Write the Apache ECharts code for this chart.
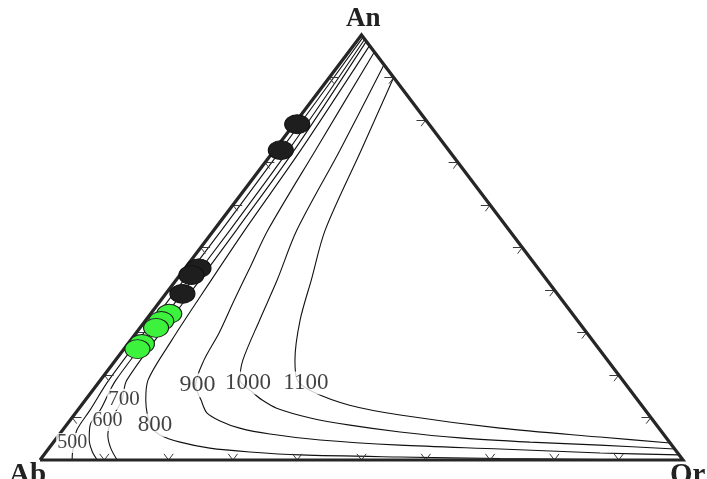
<!DOCTYPE html>
<html>
<head>
<meta charset="utf-8">
<script src="https://cdn.jsdelivr.net/npm/echarts@6/dist/echarts.min.js"></script>
<style>html,body{margin:0;padding:0;background:#fff}#c{width:707px;height:479px}</style>
</head>
<body>
<div id="c"></div>
<script>
// Ternary compositions given as [An %, Or %]  (Ab = 100 - An - Or)
const vertexNames = ['An', 'Ab', 'Or'];
const isothermNames = ['500', '600', '700', '800', '900', '1000', '1100'];
const iso500 = [[99.5,0.5],[72.9,1.0],[54.1,1.2],[37.6,1.2],[18.8,1.3],[11.8,1.9],[7.1,2.2],[3.5,3.5],[1.7,4.2],[0,5.0]];
const iso600 = [[99,1],[72.9,2.2],[54.1,2.5],[37.6,2.5],[18.8,2.4],[11.8,3.5],[8.2,3.7],[4.7,5.3],[1.9,7.2],[0,8.9]];
const iso700 = [[98.5,1.5],[72.9,3.1],[54.1,3.5],[37.6,3.75],[18.8,4.1],[14.1,5.7],[9.9,6.3],[5.9,7.6],[2.8,9.6],[0,12.0]];
const iso800 = [[97.5,2.5],[72.9,4.1],[54.1,4.8],[37.6,5.75],[28.2,6.4],[18.8,7.4],[14.1,9.4],[10.6,11.4],[7.8,13.4],[5.9,15.7],[4.2,19.7],[2.8,25.0],[1.9,31.7],[1.2,39.9],[0.7,55.6],[0.35,71.4],[0.12,87.0],[0,100]];
const iso900 = [[96,4],[72.9,6.4],[54.1,8.4],[45.4,10.0],[37.6,11.4],[29.9,12.9],[23.5,13.75],[17.6,15.4],[14.1,18.0],[11.1,20.4],[9.2,23.4],[7.5,27.3],[6.1,32.7],[4.7,41.2],[3.5,54.2],[2.6,70.3],[1.65,86.3],[1.2,98.8]];
const iso1000 = [[93,7],[72.9,10.2],[54.1,12.9],[42.4,15.7],[32.9,17.7],[23.5,19.8],[18.8,21.7],[16,25.0],[14.1,27.5],[12.2,30.7],[9.9,37.1],[8.2,44.1],[6.6,52.7],[5.2,62.7],[4.2,74.1],[3.5,85.3],[2.6,97.4]];
const iso1100 = [[90,10],[72.9,13.5],[54.1,17.3],[42.4,21.0],[32.9,24.0],[23.5,27.9],[18.8,30.6],[16,34.5],[12.9,41.7],[10.6,50.7],[7.5,67.8],[5.4,84.4],[4,96]];
const isotherms = [iso500, iso600, iso700, iso800, iso900, iso1000, iso1100];
const blackSamples = [[79.0,0.5],[72.9,1.0],[45.1,2.1],[43.5,1.8],[39.1,2.6]];
const greenSamples = [[34.4,2.9],[32.7,2.5],[31.1,2.5],[27.3,2.2],[26.1,2.1]];
const tickValues = [10,20,30,40,50,60,70,80,90];

// label anchor compositions (annotation placement) and their font sizes
const labelAnchors = [[4.0,3.0],[9.2,5.9],[14.3,5.9],[8.2,13.8],[17.6,15.7],[18.1,23.3],[18.1,32.3]];
const labelFont = [20, 20, 21, 23, 24, 23, 23];

function tern(an, or) { return [or / 100 + an / 200, an / 100]; }

const tickLen = 1.45; // percent
const tickData = [];
tickValues.forEach(function (f) {
  let p = tern(0, f);
  tickData.push({coords: [p, tern(tickLen, f - tickLen)]});
  tickData.push({coords: [p, tern(tickLen, f)]});
  p = tern(f, 100 - f);
  tickData.push({coords: [p, tern(f, 100 - f - tickLen)]});
  tickData.push({coords: [p, tern(f - tickLen, 100 - f)]});
  p = tern(f, 0);
  tickData.push({coords: [p, tern(f, tickLen)]});
  tickData.push({coords: [p, tern(f - tickLen, tickLen)]});
});

const series = [];
series.push({
  type: 'lines', coordinateSystem: 'cartesian2d', silent: true, z: 3,
  lineStyle: {color: '#3a3a3a', width: 1, opacity: 1}, data: tickData
});
isotherms.forEach(function (curve, i) {
  series.push({
    type: 'line', name: isothermNames[i], showSymbol: false, smooth: 0.3, clip: false, silent: true, z: 2,
    lineStyle: {color: '#111', width: 1.1},
    data: curve.map(function (d) { return tern(d[0], d[1]); })
  });
});
series.push({
  type: 'line', showSymbol: false, clip: false, silent: true, z: 5,
  lineStyle: {color: '#262626', width: 3.2, join: 'miter'},
  data: [tern(0, 0), tern(0, 100), tern(100, 0), tern(0, 0)]
});
series.push({
  type: 'scatter', symbol: 'circle', symbolSize: [25, 19], clip: false, z: 6,
  itemStyle: {color: '#1e1e1e', borderColor: '#111', borderWidth: 1, opacity: 1},
  data: blackSamples.map(function (d) { return tern(d[0], d[1]); })
});
series.push({
  type: 'scatter', symbol: 'circle', symbolSize: [25, 19], clip: false, z: 6,
  itemStyle: {color: '#3df23d', borderColor: '#1a1a1a', borderWidth: 1, opacity: 1},
  data: greenSamples.map(function (d) { return tern(d[0], d[1]); })
});
series.push({
  type: 'scatter', symbolSize: 0, clip: false, z: 7, silent: true,
  label: {
    show: true, position: 'inside', formatter: '{b}', color: '#111',
    fontFamily: 'Liberation Serif', fontSize: 20, backgroundColor: '#fff', padding: [0, 1]
  },
  data: labelAnchors.map(function (d, i) {
    return {name: isothermNames[i], value: tern(d[0], d[1]), label: {fontSize: labelFont[i]}};
  })
});

const chart = echarts.init(document.getElementById('c'), null, {renderer: 'canvas'});
chart.setOption({
  animation: false,
  backgroundColor: '#fff',
  grid: {left: 40, right: 24, top: 35, bottom: 19, containLabel: false},
  xAxis: {type: 'value', min: 0, max: 1, show: false},
  yAxis: {type: 'value', min: 0, max: 1, show: false},
  graphic: [
    {type: 'text', left: 346, top: 6, style: {text: vertexNames[0], font: 'bold 27px "Liberation Serif"', fill: '#222'}},
    {type: 'text', left: 9, top: 461, style: {text: vertexNames[1], font: 'bold 29px "Liberation Serif"', fill: '#222'}},
    {type: 'text', left: 670, top: 461, style: {text: vertexNames[2], font: 'bold 29px "Liberation Serif"', fill: '#222'}}
  ],
  series: series
});
</script>
</body>
</html>
